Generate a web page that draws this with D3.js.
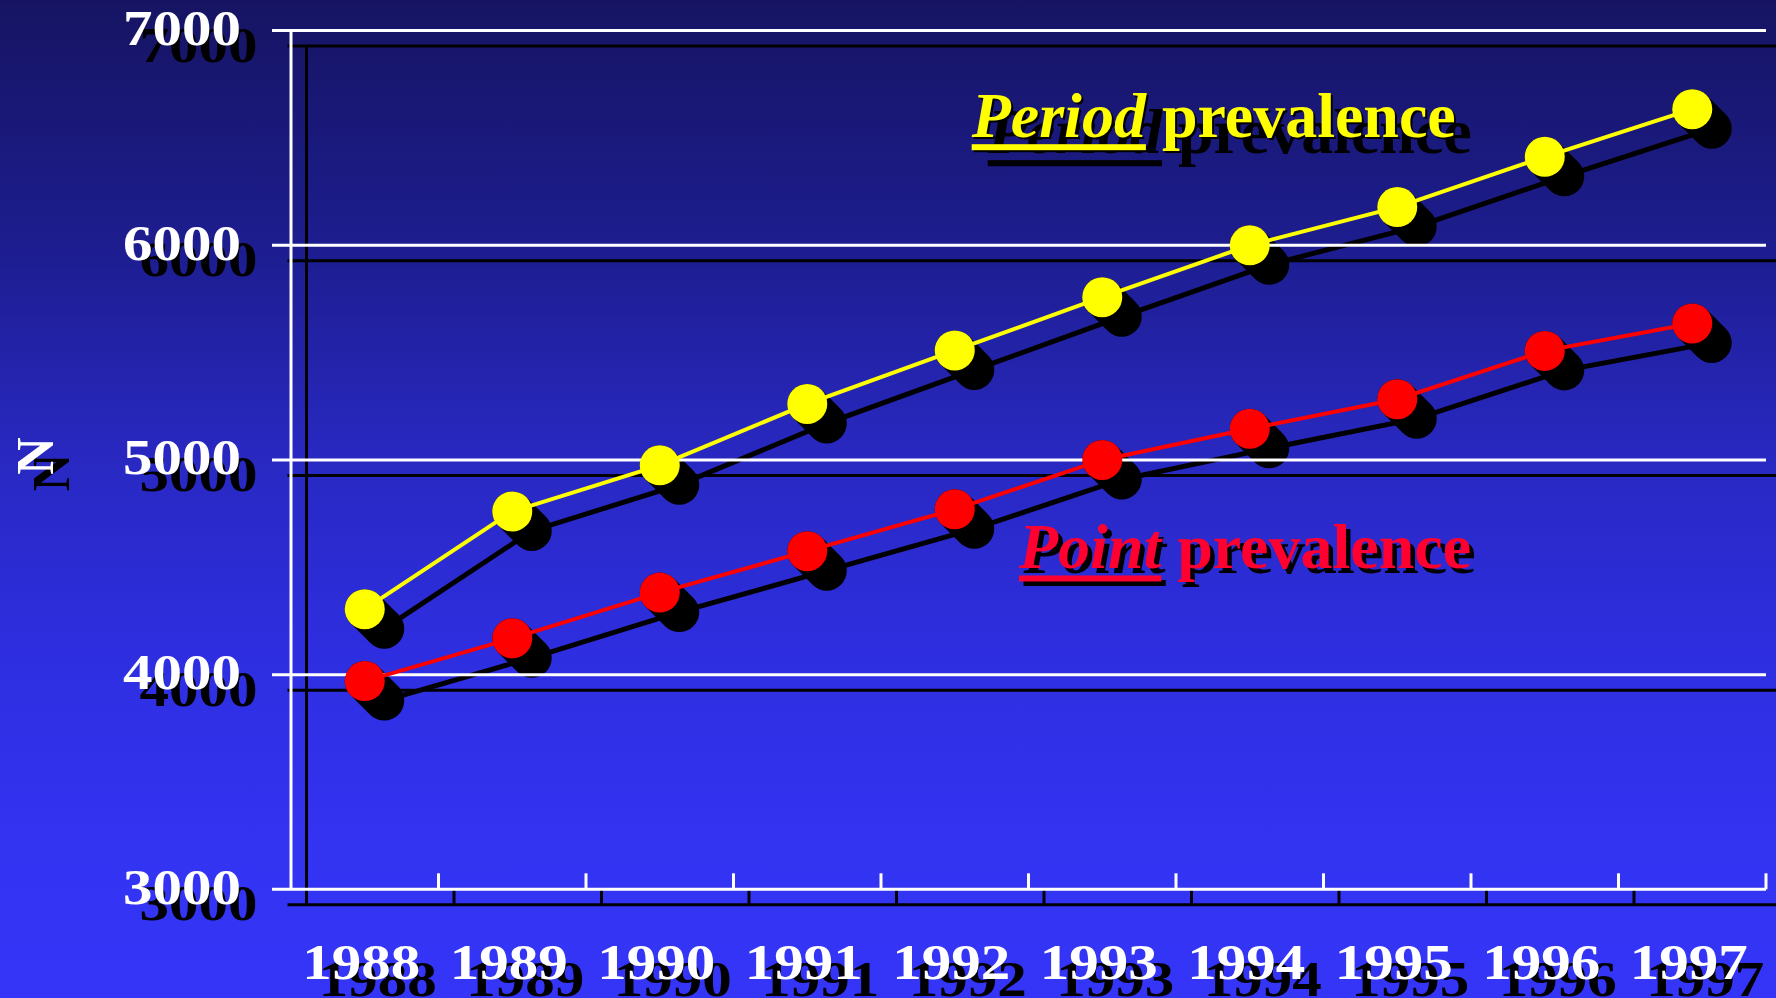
<!DOCTYPE html>
<html>
<head>
<meta charset="utf-8">
<script src="https://cdn.jsdelivr.net/npm/d3@7"></script>
<style>
html,body{margin:0;padding:0;overflow:hidden;background:#16166a;}
svg{display:block;}
text{font-family:"Liberation Serif","Times New Roman",serif;font-weight:bold;}
</style>
</head>
<body>
<svg id="chart" width="1776" height="998"></svg>
<script>
// ---- data ----
const years = ["1988","1989","1990","1991","1992","1993","1994","1995","1996","1997"];
const periodPrevalence = [4305, 4760, 4975, 5261, 5510, 5758, 6000, 6178, 6412, 6634];
const pointPrevalence  = [3970, 4169, 4382, 4575, 4770, 5000, 5145, 5283, 5508, 5636];
const yTickValues = [3000, 4000, 5000, 6000, 7000];
const yAxisTitle = "N";
const periodLabel = ["Period", "prevalence"];
const pointLabel = ["Point", "prevalence"];

// ---- setup ----
const W = 1776, H = 998;
const svg = d3.select("#chart");
const defs = svg.append("defs");
const grad = defs.append("linearGradient").attr("id","bg")
  .attr("x1","0").attr("y1","0").attr("x2","0").attr("y2","1");
[[0,"#161462"],[0.25,"#1d1d90"],[0.45,"#2828c0"],[0.65,"#2e2ee0"],[0.85,"#3333f2"],[1,"#3535f8"]]
  .forEach(s => grad.append("stop").attr("offset", s[0]).attr("stop-color", s[1]));
svg.append("rect").attr("width", W).attr("height", H).attr("fill","url(#bg)");

const x = d3.scaleBand().domain(years).range([291, 1766]).paddingInner(0).paddingOuter(0);
const y = d3.scaleLinear().domain([3000, 7000]).range([889.3, 30.6]);
const cx = d => x(d) + x.bandwidth() / 2;
const x0 = x.range()[0], x1 = x.range()[1];
const tickOut = 19;
const stretch = 1.18;

function drawAxes(g, color, off) {
  const a = g.append("g").attr("transform", `translate(${off},${off})`)
    .attr("stroke", color).attr("stroke-width", 3).attr("fill","none");
  // horizontal gridlines (incl. baseline)
  a.selectAll("line.grid").data(yTickValues).join("line").attr("class","grid")
    .attr("x1", x0 - tickOut).attr("x2", x1)
    .attr("y1", d => y(d)).attr("y2", d => y(d));
  // vertical axis
  a.append("line").attr("x1", x0).attr("x2", x0).attr("y1", y(7000)).attr("y2", y(3000));
  // category boundary ticks
  a.selectAll("line.xt").data(years).join("line").attr("class","xt")
    .attr("x1", d => x(d) + x.bandwidth()).attr("x2", d => x(d) + x.bandwidth())
    .attr("y1", y(3000)).attr("y2", y(3000) - 16);
}

function drawTickLabels(g, color, off) {
  const t = g.append("g").attr("fill", color).attr("font-size", 50);
  yTickValues.forEach(v => {
    t.append("g").attr("transform", `translate(${241 + off},${y(v) + 14.5 + off}) scale(${stretch},1)`)
      .append("text").attr("text-anchor","end").text(v);
  });
  years.forEach(d => {
    t.append("g").attr("transform", `translate(${cx(d) - 3.5 + off},${979 + off}) scale(${stretch},1)`)
      .append("text").attr("text-anchor","middle").text(d);
  });
  t.append("g").attr("transform", `translate(${35 + off},${456 + off}) rotate(-90)`)
    .append("text").attr("text-anchor","middle").attr("dominant-baseline","central")
    .attr("font-size", 52).text(yAxisTitle);
}

const series = [
  {values: periodPrevalence, color: "#ffff00"},
  {values: pointPrevalence, color: "#ff0000"}
];
const line = d3.line().x((d,i) => cx(years[i])).y(d => y(d));
const sOff = 19.5;

// shadows layer
const shadowAxes = svg.append("g");
drawAxes(shadowAxes, "#000", 15.5);
drawTickLabels(svg.append("g"), "#000", 16.5);

const seriesShadow = svg.append("g");
series.forEach(s => {
  seriesShadow.append("path").datum(s.values).attr("d", line)
    .attr("transform", `translate(${sOff},${sOff})`)
    .attr("fill","none").attr("stroke","#000").attr("stroke-width",5);
  seriesShadow.selectAll(null).data(s.values).join("line")
    .attr("x1", (d,i) => cx(years[i])).attr("y1", d => y(d))
    .attr("x2", (d,i) => cx(years[i]) + sOff).attr("y2", d => y(d) + sOff)
    .attr("stroke","#000").attr("stroke-width",40).attr("stroke-linecap","round");
});

// white axes
drawAxes(svg.append("g"), "#fff", 0);
drawTickLabels(svg.append("g"), "#fff", 0);

// series
series.forEach(s => {
  const g = svg.append("g");
  g.append("path").datum(s.values).attr("d", line)
    .attr("fill","none").attr("stroke", s.color).attr("stroke-width",4);
  g.selectAll("circle").data(s.values).join("circle")
    .attr("cx", (d,i) => cx(years[i])).attr("cy", d => y(d)).attr("r", 20)
    .attr("fill", s.color);
});

// labels
function drawLabel(words, px, py, color, shadows) {
  const layers = shadows.map(o => ({off:o, color:"#000"})).concat([{off:0, color}]);
  layers.forEach(L => {
    const g = svg.append("g").attr("transform", `translate(${px + L.off},${py + L.off})`)
      .attr("fill", L.color).attr("font-size", 64);
    const it = g.append("text").attr("font-style","italic").text(words[0]);
    const w = it.node().getComputedTextLength();
    g.append("text").attr("x", w + 16).text(words[1]);
    g.append("rect").attr("x", 0).attr("y", 7.5).attr("width", w).attr("height", 6);
  });
}
drawLabel(periodLabel, 971.7, 136.7, "#ffff00", [16, 2]);
drawLabel(pointLabel, 1019, 568, "#ff0030", [4.5]);
</script>
</body>
</html>
